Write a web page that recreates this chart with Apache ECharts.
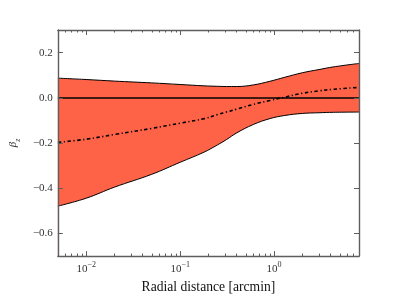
<!DOCTYPE html>
<html>
<head>
<meta charset="utf-8">
<script src="https://cdn.jsdelivr.net/npm/echarts@6/dist/echarts.min.js"></script>
<style>html,body{margin:0;padding:0;background:#fff}#c{width:399px;height:299px}</style>
</head>
<body>
<div id="c"></div>
<script>
// Radial distance [arcmin]
const radius = [0.005, 0.01, 0.02, 0.05, 0.1, 0.18, 0.25, 0.31, 0.4, 0.6, 0.9, 1.3, 2, 3, 4.3, 8];
const upperBound = [0.087, 0.081, 0.074, 0.066, 0.059, 0.053, 0.051, 0.050, 0.050, 0.057, 0.073, 0.091, 0.111, 0.125, 0.137, 0.152];
const lowerBound = [-0.479, -0.444, -0.395, -0.338, -0.285, -0.24, -0.208, -0.185, -0.155, -0.118, -0.092, -0.078, -0.069, -0.066, -0.064, -0.063];
const medianBeta = [-0.197, -0.183, -0.162, -0.135, -0.112, -0.092, -0.074, -0.063, -0.05, -0.029, -0.012, 0.003, 0.02, 0.031, 0.038, 0.046];
const xMajorTicks = [0.01, 0.1, 1];
const xMinorTicks = [0.005, 0.006, 0.007, 0.008, 0.009, 0.02, 0.03, 0.04, 0.05, 0.06, 0.07, 0.08, 0.09,
  0.2, 0.3, 0.4, 0.5, 0.6, 0.7, 0.8, 0.9, 2, 3, 4, 5, 6, 7, 8];
const yTicks = [-0.6, -0.4, -0.2, 0.0, 0.2];
const xTitle = 'Radial distance [arcmin]';

const FONT = 'Liberation Serif';
const FRAME = '#5e5e5e';

const upperPts = radius.map((r, i) => [r, upperBound[i]]);
const lowerPts = radius.map((r, i) => [r, lowerBound[i]]);
const medianPts = radius.map((r, i) => [r, medianBeta[i]]);

function xAxisDef(pos, ticks, len, showLine, showLabel) {
  return {
    type: 'log', logBase: 10, min: 0.005, max: 8, position: pos, gridIndex: 0, z: 10,
    axisLine: { show: showLine, onZero: false, lineStyle: { color: FRAME, width: 1.4 } },
    axisTick: { show: true, inside: true, length: len, customValues: ticks, lineStyle: { color: FRAME, width: 1 } },
    minorTick: { show: false },
    splitLine: { show: false },
    axisLabel: showLabel ? {
      show: true, customValues: xMajorTicks, margin: 5,
      formatter: v => '{b|10}{s|' + String(Math.round(Math.log10(v))).replace('-', '\u2212') + '}',
      rich: {
        b: { fontFamily: FONT, fontSize: 11, color: '#333', lineHeight: 14, verticalAlign: 'bottom' },
        s: { fontFamily: FONT, fontSize: 8, color: '#333', lineHeight: 14, verticalAlign: 'top' }
      }
    } : { show: false },
    name: showLabel ? xTitle : '',
    nameLocation: 'middle', nameGap: 17,
    nameTextStyle: { fontFamily: FONT, fontSize: 13.6, color: '#111' }
  };
}
function yAxisDef(pos, showLabel) {
  return {
    type: 'value', min: -0.7, max: 0.3, position: pos, z: 10,
    axisLine: { show: true, onZero: false, lineStyle: { color: FRAME, width: 1.4 } },
    axisTick: { show: true, inside: true, length: 5, customValues: yTicks, lineStyle: { color: FRAME, width: 1 } },
    splitLine: { show: false },
    axisLabel: showLabel ? {
      show: true, customValues: yTicks, margin: 5,
      fontFamily: FONT, fontSize: 11, color: '#333',
      formatter: v => (Math.abs(v) < 1e-9 ? '0.0' : v.toFixed(1).replace('-', '\u2212'))
    } : { show: false },
    name: showLabel ? '{b|\u03B2}{s|z}' : '',
    nameLocation: 'middle', nameRotate: 90, nameGap: 32,
    nameTextStyle: {
      rich: {
        b: { fontFamily: FONT, fontStyle: 'italic', fontSize: 11, color: '#333', lineHeight: 14, verticalAlign: 'top' },
        s: { fontFamily: FONT, fontStyle: 'italic', fontSize: 8, color: '#333', lineHeight: 14, verticalAlign: 'bottom' }
      }
    }
  };
}

const chart = echarts.init(document.getElementById('c'), null, { renderer: 'canvas' });
chart.setOption({
  animation: false,
  backgroundColor: '#fff',
  grid: { left: 50, right: 40, top: 30, bottom: 31, containLabel: false },
  xAxis: [
    xAxisDef('bottom', xMajorTicks, 5, true, true),
    xAxisDef('bottom', xMinorTicks, 2.5, false, false),
    xAxisDef('top', xMajorTicks, 5, true, false),
    xAxisDef('top', xMinorTicks, 2.5, false, false)
  ],
  yAxis: [yAxisDef('left', true), yAxisDef('right', false)],
  series: [
    {
      type: 'line', name: 'upper', data: upperPts,
      xAxisIndex: 0, yAxisIndex: 0, symbol: 'none', smooth: 0.4, z: 2,
      lineStyle: { color: '#000', width: 1 },
      areaStyle: { color: '#ff6347', opacity: 1, origin: 'start' }
    },
    {
      type: 'line', name: 'lower', data: lowerPts,
      xAxisIndex: 0, yAxisIndex: 0, symbol: 'none', smooth: 0.4, z: 3,
      lineStyle: { color: '#000', width: 1 },
      areaStyle: { color: '#ffffff', opacity: 1, origin: 'start' }
    },
    {
      type: 'line', name: 'median', data: medianPts,
      xAxisIndex: 0, yAxisIndex: 0, symbol: 'none', smooth: 0.4, z: 4,
      lineStyle: { color: '#000', width: 1.6, type: [3.5, 2.5, 1.2, 2.5] },
      markLine: {
        silent: true, symbol: ['none', 'none'], label: { show: false },
        lineStyle: { color: '#000', width: 1.5, type: 'solid' },
        data: [{ yAxis: 0 }]
      }
    }
  ]
});
</script>
</body>
</html>
